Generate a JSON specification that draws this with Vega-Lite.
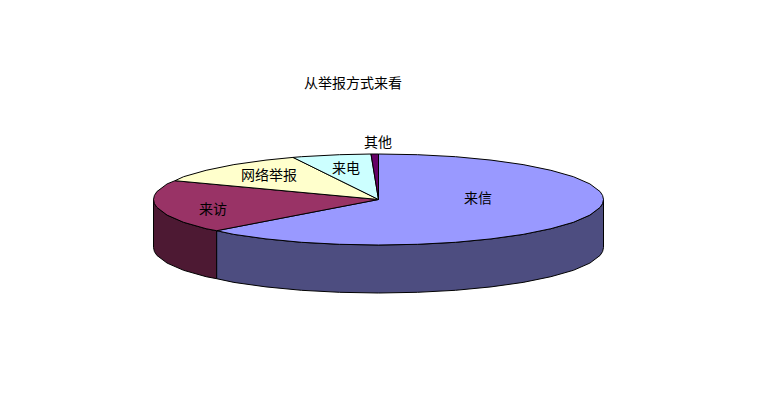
{
"$schema":"https://vega.github.io/schema/vega-lite/v6.json",
"width":764,"height":415,"padding":0,"autosize":{"type":"none"},
"background":"white",
"title":{"text":"从举报方式来看","anchor":"middle","frame":"group","dx":-29,"dy":91,"offset":0,"font":"Noto Sans CJK SC","fontSize":14,"fontWeight":"normal","color":"#000000"},
"view":{"stroke":null},
"resolve":{"scale":{"color":"independent"}},
"datasets":{
"walls":[
{"part":"来访侧面","x":-225,"y":0,"y2":-48},
{"part":"来访侧面","x":-224.1,"y":-4,"y2":-52},
{"part":"来访侧面","x":-221.6,"y":-7.9,"y2":-55.9},
{"part":"来访侧面","x":-211.4,"y":-15.6,"y2":-63.6},
{"part":"来访侧面","x":-194.9,"y":-22.8,"y2":-70.8},
{"part":"来访侧面","x":-172.4,"y":-29.2,"y2":-77.2},
{"part":"来访侧面","x":-161.8,"y":-31.2,"y2":-79.2},
{"part":"来信侧面","x":-161.8,"y":-31.2,"y2":-79.2},
{"part":"来信侧面","x":-144.6,"y":-34.9,"y2":-82.9},
{"part":"来信侧面","x":-112.5,"y":-39.4,"y2":-87.4},
{"part":"来信侧面","x":-77,"y":-42.8,"y2":-90.8},
{"part":"来信侧面","x":-39.1,"y":-44.8,"y2":-92.8},
{"part":"来信侧面","x":0,"y":-45.5,"y2":-93.5},
{"part":"来信侧面","x":39.1,"y":-44.8,"y2":-92.8},
{"part":"来信侧面","x":77,"y":-42.8,"y2":-90.8},
{"part":"来信侧面","x":112.5,"y":-39.4,"y2":-87.4},
{"part":"来信侧面","x":144.6,"y":-34.9,"y2":-82.9},
{"part":"来信侧面","x":172.4,"y":-29.2,"y2":-77.2},
{"part":"来信侧面","x":194.9,"y":-22.8,"y2":-70.8},
{"part":"来信侧面","x":211.4,"y":-15.6,"y2":-63.6},
{"part":"来信侧面","x":221.6,"y":-7.9,"y2":-55.9},
{"part":"来信侧面","x":224.1,"y":-4,"y2":-52},
{"part":"来信侧面","x":225,"y":0,"y2":-48}
],
"slices":[
{"part":"来信","i":0,"x":0,"y":0},
{"part":"来信","i":1,"x":0,"y":45.5},
{"part":"来信","i":2,"x":39.1,"y":44.8},
{"part":"来信","i":3,"x":77,"y":42.8},
{"part":"来信","i":4,"x":112.5,"y":39.4},
{"part":"来信","i":5,"x":144.6,"y":34.9},
{"part":"来信","i":6,"x":172.4,"y":29.2},
{"part":"来信","i":7,"x":194.9,"y":22.8},
{"part":"来信","i":8,"x":211.4,"y":15.6},
{"part":"来信","i":9,"x":221.6,"y":7.9},
{"part":"来信","i":10,"x":224.1,"y":4},
{"part":"来信","i":11,"x":225,"y":0},
{"part":"来信","i":12,"x":224.1,"y":-4},
{"part":"来信","i":13,"x":221.6,"y":-7.9},
{"part":"来信","i":14,"x":211.4,"y":-15.6},
{"part":"来信","i":15,"x":194.9,"y":-22.8},
{"part":"来信","i":16,"x":172.4,"y":-29.2},
{"part":"来信","i":17,"x":144.6,"y":-34.9},
{"part":"来信","i":18,"x":112.5,"y":-39.4},
{"part":"来信","i":19,"x":77,"y":-42.8},
{"part":"来信","i":20,"x":39.1,"y":-44.8},
{"part":"来信","i":21,"x":0,"y":-45.5},
{"part":"来信","i":22,"x":-39.1,"y":-44.8},
{"part":"来信","i":23,"x":-77,"y":-42.8},
{"part":"来信","i":24,"x":-112.5,"y":-39.4},
{"part":"来信","i":25,"x":-144.6,"y":-34.9},
{"part":"来信","i":26,"x":-161.8,"y":-31.2},
{"part":"来信","i":27,"x":0,"y":0},
{"part":"来访","i":0,"x":0,"y":0},
{"part":"来访","i":1,"x":-161.8,"y":-31.2},
{"part":"来访","i":2,"x":-172.4,"y":-29.2},
{"part":"来访","i":3,"x":-194.9,"y":-22.8},
{"part":"来访","i":4,"x":-211.4,"y":-15.6},
{"part":"来访","i":5,"x":-221.6,"y":-7.9},
{"part":"来访","i":6,"x":-224.1,"y":-4},
{"part":"来访","i":7,"x":-225,"y":0},
{"part":"来访","i":8,"x":-224.1,"y":4},
{"part":"来访","i":9,"x":-221.6,"y":7.9},
{"part":"来访","i":10,"x":-211.4,"y":15.6},
{"part":"来访","i":11,"x":-203.5,"y":18.8},
{"part":"来访","i":12,"x":0,"y":0},
{"part":"网络举报","i":0,"x":0,"y":0},
{"part":"网络举报","i":1,"x":-203.5,"y":18.8},
{"part":"网络举报","i":2,"x":-194.9,"y":22.8},
{"part":"网络举报","i":3,"x":-172.4,"y":29.2},
{"part":"网络举报","i":4,"x":-144.6,"y":34.9},
{"part":"网络举报","i":5,"x":-112.5,"y":39.4},
{"part":"网络举报","i":6,"x":-85.5,"y":42.1},
{"part":"网络举报","i":7,"x":0,"y":0},
{"part":"来电","i":0,"x":0,"y":0},
{"part":"来电","i":1,"x":-85.5,"y":42.1},
{"part":"来电","i":2,"x":-77,"y":42.8},
{"part":"来电","i":3,"x":-39.1,"y":44.8},
{"part":"来电","i":4,"x":-7.5,"y":45.5},
{"part":"来电","i":5,"x":0,"y":0},
{"part":"其他","i":0,"x":0,"y":0},
{"part":"其他","i":1,"x":-7.5,"y":45.5},
{"part":"其他","i":2,"x":0,"y":45.5},
{"part":"其他","i":3,"x":0,"y":0}
],
"labels":[
{"label":"来信","x":99.5,"y":0.5},
{"label":"来访","x":-165.5,"y":-10.5},
{"label":"网络举报","x":-109.5,"y":23.5},
{"label":"来电","x":-32.5,"y":30.5},
{"label":"其他","x":-0.5,"y":56.5}
]
},
"encoding":{
"x":{"field":"x","type":"quantitative","axis":null,"scale":{"domain":[-378.5,385.5],"nice":false,"zero":false}},
"y":{"field":"y","type":"quantitative","axis":null,"scale":{"domain":[-215.5,199.5],"nice":false,"zero":false}}
},
"layer":[
{"data":{"name":"walls"},
 "mark":{"type":"area","stroke":"#000000","strokeWidth":1,"opacity":1},
 "encoding":{
  "y2":{"field":"y2"},
  "color":{"field":"part","type":"nominal","legend":null,"scale":{"domain":["来信侧面","来访侧面"],"range":["#4D4D80","#4D1933"]}}
 }},
{"data":{"name":"slices"},
 "mark":{"type":"line","filled":true,"stroke":"#000000","strokeWidth":1,"opacity":1},
 "encoding":{
  "order":{"field":"i","type":"quantitative"},
  "color":{"field":"part","type":"nominal","legend":null,"scale":{"domain":["来信","来访","网络举报","来电","其他"],"range":["#9999FF","#993366","#FFFFCC","#CCFFFF","#660066"]}}
 }},
{"data":{"name":"labels"},
 "mark":{"type":"text","font":"Noto Sans CJK SC","fontSize":14,"color":"#000000","align":"center","baseline":"middle"},
 "encoding":{"text":{"field":"label","type":"nominal"}}}
]
}
